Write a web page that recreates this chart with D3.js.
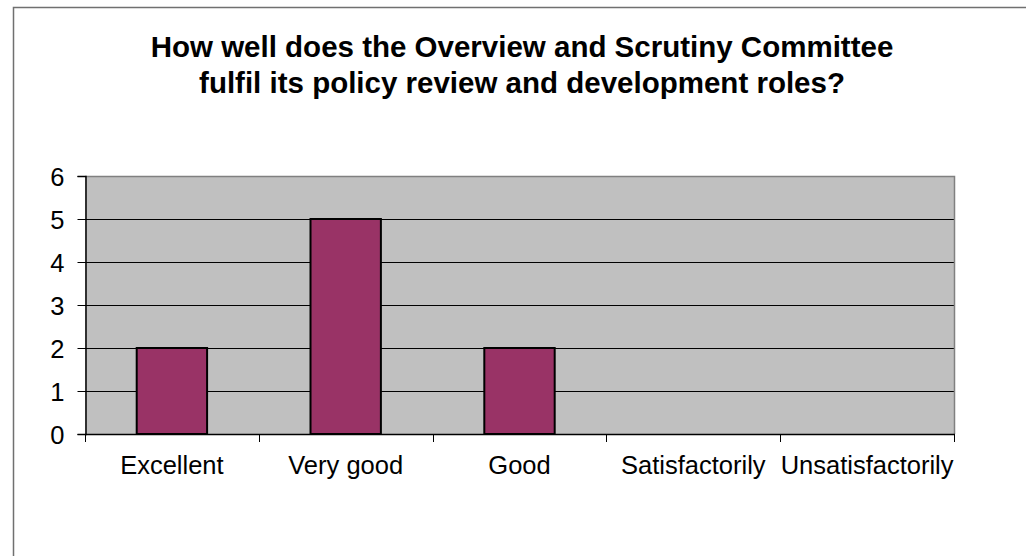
<!DOCTYPE html>
<html>
<head>
<meta charset="utf-8">
<script src="https://cdn.jsdelivr.net/npm/d3@7"></script>
<style>
  html, body { margin: 0; padding: 0; background: #ffffff; }
  svg { display: block; }
  text { font-family: Arial, "Liberation Sans", sans-serif; fill: #000; }
</style>
</head>
<body>
<svg id="chart" width="1026" height="556"></svg>
<script>
// Survey responses
const categories = ["Excellent", "Very good", "Good", "Satisfactorily", "Unsatisfactorily"];
const counts = [2, 5, 2, 0, 0];
const yTicks = [0, 1, 2, 3, 4, 5, 6];
const titleLines = [
  "How well does the Overview and Scrutiny Committee",
  "fulfil its policy review and development roles?"
];

const svg = d3.select("#chart");
const W = 1026, H = 556;
const labelSize = 25.5;

// Outer chart frame
svg.append("rect")
  .attr("x", 13.5).attr("y", 7.5)
  .attr("width", W + 20).attr("height", H + 20)
  .attr("fill", "#fff")
  .attr("stroke", "#707070").attr("stroke-width", 1.5);

const plot = { left: 85, right: 954, top: 176, bottom: 434 };

const x = d3.scaleBand()
  .domain(categories)
  .range([plot.left, plot.right])
  .paddingInner(0).paddingOuter(0);

const y = d3.scaleLinear()
  .domain([0, 6])
  .range([plot.bottom, plot.top]);

// Plot background
svg.append("rect")
  .attr("x", plot.left).attr("y", plot.top)
  .attr("width", plot.right - plot.left).attr("height", plot.bottom - plot.top)
  .attr("fill", "#c0c0c0");

// Horizontal gridlines
svg.append("g")
  .selectAll("line")
  .data(yTicks.filter(d => d > 0 && d < 6))
  .join("line")
  .attr("x1", plot.left).attr("x2", plot.right)
  .attr("y1", d => Math.round(y(d)) + 0.5).attr("y2", d => Math.round(y(d)) + 0.5)
  .attr("stroke", "#000").attr("stroke-width", 1);

// Plot frame: top and right edges in grey
svg.append("path")
  .attr("d", `M${plot.left},${plot.top + 0.5}H${plot.right + 0.5}V${plot.bottom}`)
  .attr("fill", "none").attr("stroke", "#808080").attr("stroke-width", 1.5);

// Bars
const barW = x.bandwidth() * 0.405;
svg.append("g")
  .selectAll("rect")
  .data(categories.map((c, i) => ({ c, v: counts[i] })).filter(d => d.v > 0))
  .join("rect")
  .attr("x", d => x(d.c) + (x.bandwidth() - barW) / 2)
  .attr("y", d => y(d.v))
  .attr("width", barW)
  .attr("height", d => y(0) - y(d.v))
  .attr("fill", "#993366")
  .attr("stroke", "#000").attr("stroke-width", 2);

// Y axis
const yAxis = svg.append("g")
  .attr("transform", `translate(${plot.left + 0.5},0)`)
  .call(d3.axisLeft(y).tickValues(yTicks).tickFormat(d3.format("d")).tickSize(8).tickPadding(13));
yAxis.attr("font-size", null).attr("font-family", null);
yAxis.select(".domain").attr("stroke", "#000").attr("stroke-width", 1.5);
yAxis.selectAll(".tick line").attr("stroke", "#000");
yAxis.selectAll(".tick text")
  .style("font-size", labelSize + "px")
  .attr("dy", "0.36em").attr("fill", "#000");

// X axis: ticks on category boundaries
const xAxisG = svg.append("g");
xAxisG.append("line")
  .attr("x1", plot.left).attr("x2", plot.right + 1)
  .attr("y1", plot.bottom + 0.5).attr("y2", plot.bottom + 0.5)
  .attr("stroke", "#000").attr("stroke-width", 1.5);
const bounds = categories.map(c => x(c)).concat([x.range()[1]]);
xAxisG.selectAll("line.tick")
  .data(bounds)
  .join("line").attr("class", "tick")
  .attr("x1", d => Math.round(d) + 0.5).attr("x2", d => Math.round(d) + 0.5)
  .attr("y1", plot.bottom).attr("y2", plot.bottom + 8)
  .attr("stroke", "#000");
xAxisG.selectAll("text")
  .data(categories)
  .join("text")
  .attr("x", d => x(d) + x.bandwidth() / 2)
  .attr("y", 474)
  .attr("text-anchor", "middle")
  .style("font-size", labelSize + "px")
  .text(d => d);

// Title
svg.append("g")
  .selectAll("text")
  .data(titleLines)
  .join("text")
  .attr("x", 522)
  .attr("y", (d, i) => 57 + i * 36)
  .attr("text-anchor", "middle")
  .style("font-size", "29.5px")
  .attr("font-weight", "bold")
  .text(d => d);
</script>
</body>
</html>
